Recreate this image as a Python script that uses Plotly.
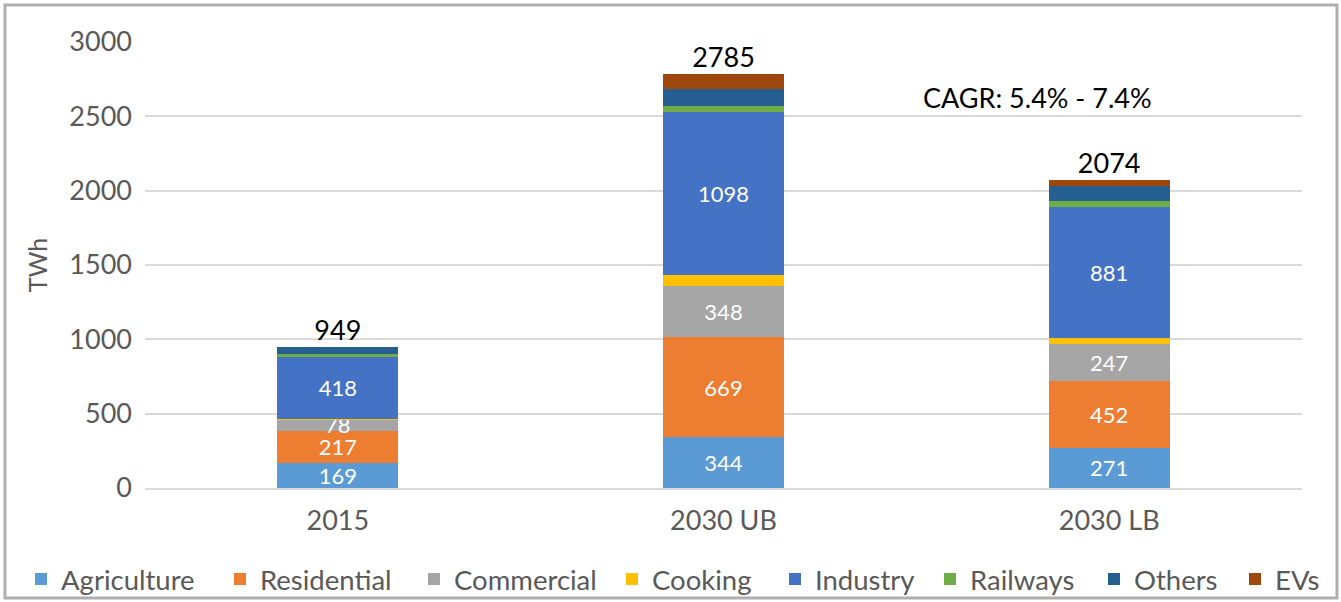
import plotly.graph_objects as go

categories = ["2015", "2030 UB", "2030 LB"]
agriculture = [169, 344, 271]
residential = [217, 669, 452]
commercial = [78, 348, 247]
cooking = [2, 70, 39]
industry = [418, 1098, 881]
railways = [20, 40, 38]
others = [45, 115, 106]
evs = [0, 101, 40]
totals = [949, 2785, 2074]
tick_vals = [0, 500, 1000, 1500, 2000, 2500, 3000]
cagr_text = "CAGR: 5.4% - 7.4%"

series = [
    ("Agriculture", agriculture, "#5B9BD5", True),
    ("Residential", residential, "#ED7D31", True),
    ("Commercial", commercial, "#A5A5A5", True),
    ("Cooking", cooking, "#FFC000", False),
    ("Industry", industry, "#4472C4", True),
    ("Railways", railways, "#70AD47", False),
    ("Others", others, "#255E91", False),
    ("EVs", evs, "#9E480E", False),
]
# left pixel of each legend swatch in the reference
legend_px = [37, 236, 430, 628, 791, 946, 1110, 1251]

W, H = 1341, 602
L, R, T, B = 145, 39, 42, 114
PW, PH = W - L - R, H - T - B
FONT = "Lato, 'Open Sans', sans-serif"

fig = go.Figure()
legend_layouts = {}
for i, (name, vals, color, labeled) in enumerate(series):
    lg = "legend" if i == 0 else f"legend{i + 1}"
    fig.add_trace(go.Bar(
        name=name, x=categories, y=vals, legend=lg,
        marker=dict(color=color, line=dict(width=0)),
        text=[str(v) for v in vals] if labeled else None,
        textposition="inside" if labeled else "none",
        insidetextanchor="middle",
        textangle=0,
        insidetextfont=dict(color="white", size=22, family=FONT),
        hoverinfo="name+y",
    ))
    legend_layouts[lg] = dict(
        orientation="h", xref="container", yref="container",
        x=(legend_px[i] - 16) / W, xanchor="left",
        y=(H - 579) / H, yanchor="middle",
        font=dict(size=27.5, color="#595959", family=FONT),
        bgcolor="rgba(0,0,0,0)",
    )

fig.add_trace(go.Scatter(
    x=categories, y=totals, mode="text",
    text=[str(t) for t in totals], textposition="top center",
    textfont=dict(color="black", size=27, family=FONT),
    showlegend=False, cliponaxis=False, hoverinfo="skip",
))

fig.update_layout(
    barmode="stack",
    bargap=0.686,
    width=W, height=H,
    margin=dict(l=L, r=R, t=T, b=B, autoexpand=False),
    paper_bgcolor="white", plot_bgcolor="white",
    font=dict(family=FONT, color="#595959", size=27),
    uniformtext=dict(minsize=22, mode="show"),
    yaxis=dict(
        range=[0, 3000], tickvals=tick_vals, showgrid=True,
        gridcolor="#D9D9D9", gridwidth=2, zeroline=False,
        showline=False, ticks="", ticklabelstandoff=12, automargin=False,
        tickfont=dict(size=27, color="#595959"),
        title=dict(text="TWh", font=dict(size=25, color="#595959"), standoff=14),
    ),
    xaxis=dict(
        showline=True, linecolor="#D9D9D9", linewidth=2, ticks="",
        ticklabelstandoff=8,
        automargin=False, tickfont=dict(size=27, color="#595959"),
    ),
    annotations=[dict(
        x=(921 - L) / PW, y=(488 - 97) / PH, xref="paper", yref="paper",
        text=cagr_text, showarrow=False,
        font=dict(size=27, color="black", family=FONT),
        xanchor="left", yanchor="middle",
    )],
    shapes=[dict(
        type="rect", xref="paper", yref="paper",
        x0=(5 - L) / PW, x1=(1337 - L) / PW,
        y0=(488 - 598) / PH, y1=(488 - 5) / PH,
        line=dict(color="#AFAFAF", width=3), fillcolor="rgba(0,0,0,0)",
        layer="below",
    )],
    **legend_layouts,
)

fig.write_html(
    "out.html",
    config={"displayModeBar": False},
    post_script="document.body.style.margin='0px';document.body.style.padding='0px';",
)
